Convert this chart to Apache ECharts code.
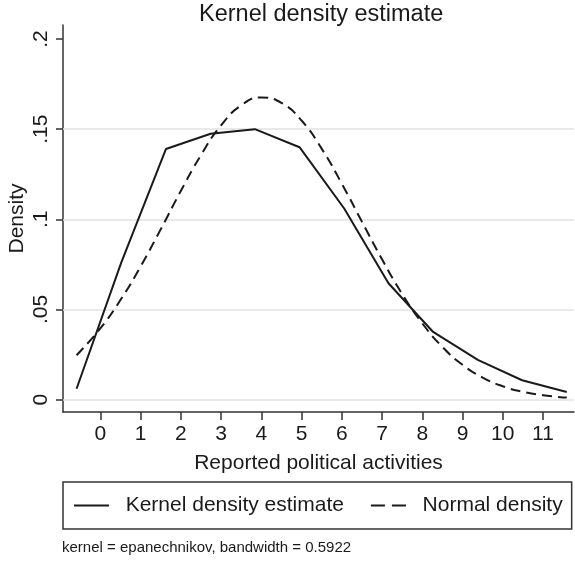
<!DOCTYPE html>
<html>
<head>
<meta charset="utf-8">
<script src="https://cdn.jsdelivr.net/npm/echarts@6/dist/echarts.min.js"></script>
<style>
  html, body { margin: 0; padding: 0; background: #fff; }
  #main { width: 575px; height: 564px; }
</style>
</head>
<body>
<div id="main"></div>
<script>
// kernel density estimate (solid), evaluated points
const kdeX = [-0.59, 0.52, 1.63, 2.74, 3.84, 4.95, 6.06, 7.16, 8.27, 9.38, 10.48, 11.59]
const kdeY = [0.006, 0.076, 0.139, 0.1475, 0.150, 0.140, 0.106, 0.0645, 0.0375, 0.022, 0.0107, 0.0042]

// normal density (dashed)
const normX = [-0.59, 0, 0.5, 1, 1.5, 2, 2.5, 3, 3.5, 4, 4.5, 5, 5.5, 6, 6.5, 7, 7.5, 8, 8.5, 9, 9.5, 10, 10.5, 11, 11.59]
const normY = [0.0246, 0.0395, 0.0552, 0.0738, 0.0944, 0.1157, 0.1356, 0.1521, 0.1632, 0.1676, 0.1646, 0.1548, 0.1392,
  0.1198, 0.0987, 0.0778, 0.0586, 0.0423, 0.0292, 0.0193, 0.0122, 0.0074, 0.0043, 0.0024, 0.0011]

const xTicks = [0, 1, 2, 3, 4, 5, 6, 7, 8, 9, 10, 11]
const yTicks = [0, 0.05, 0.1, 0.15, 0.2]
const yGrid = [0, 0.05, 0.1, 0.15]

const FONT = 'Liberation Sans'
const INK = '#1a1a1a'

const pairs = (xs, ys) => xs.map((x, i) => [x, ys[i]])

const chart = echarts.init(document.getElementById('main'))
chart.setOption({
  animation: false,
  backgroundColor: '#fff',
  textStyle: { fontFamily: FONT },
  title: {
    text: 'Kernel density estimate',
    left: 194,
    top: -2,
    textStyle: { fontFamily: FONT, fontSize: 23.5, fontWeight: 'normal', color: INK }
  },
  grid: { left: 63, right: 1, top: 25, bottom: 152, containLabel: false, outerBoundsMode: 'none' },
  legend: {
    left: 63,
    top: 482,
    orient: 'horizontal',
    padding: [13, 9, 13, 10],
    borderColor: '#333',
    borderWidth: 1.5,
    itemWidth: 35,
    itemHeight: 14,
    itemGap: 26,
    itemStyle: { opacity: 0 },
    textStyle: { fontFamily: FONT, fontSize: 21, color: INK },
    formatter: name => '  ' + name,
    data: [
      { name: 'Kernel density estimate' },
      { name: 'Normal density', lineStyle: { type: [14, 7] } }
    ]
  },
  graphic: [{
    type: 'text',
    left: 62,
    top: 540,
    style: { text: 'kernel = epanechnikov, bandwidth = 0.5922', font: '15px "Liberation Sans"', fill: INK }
  }],
  xAxis: {
    type: 'value',
    min: -0.927,
    max: 11.77,
    name: 'Reported political activities',
    nameLocation: 'middle',
    nameGap: 41,
    nameTextStyle: { fontFamily: FONT, fontSize: 21, color: INK },
    axisLine: { show: true, onZero: false, lineStyle: { color: '#333', width: 1.5 } },
    axisTick: { show: true, length: 8, customValues: xTicks, lineStyle: { color: '#333', width: 1.5 } },
    axisLabel: { customValues: xTicks, margin: 12, fontFamily: FONT, fontSize: 21, color: INK },
    splitLine: { show: false }
  },
  yAxis: {
    type: 'value',
    min: -0.0069,
    max: 0.2078,
    name: 'Density',
    nameLocation: 'middle',
    nameRotate: 90,
    nameGap: 35,
    nameMoveOverlap: false,
    nameTextStyle: { fontFamily: FONT, fontSize: 21, color: INK },
    axisLine: { show: true, onZero: false, lineStyle: { color: '#333', width: 1.5 } },
    axisTick: { show: true, length: 7, customValues: yTicks, lineStyle: { color: '#333', width: 1.5 } },
    axisLabel: {
      customValues: yTicks,
      rotate: 90,
      margin: 11,
      fontFamily: FONT,
      fontSize: 21,
      color: INK,
      formatter: v => (v === 0 ? '0' : String(v).replace(/^0/, ''))
    },
    splitLine: { show: false }
  },
  series: [
    {
      name: 'Kernel density estimate',
      type: 'line',
      data: pairs(kdeX, kdeY),
      showSymbol: false,
      symbol: 'none',
      z: 3,
      color: INK,
      lineStyle: { color: INK, width: 2 },
      markLine: {
        silent: true,
        symbol: 'none',
        z: 1,
        label: { show: false },
        lineStyle: { color: '#e2e2e2', width: 1.5, type: 'solid' },
        data: yGrid.map(v => ({ yAxis: v }))
      }
    },
    {
      name: 'Normal density',
      type: 'line',
      data: pairs(normX, normY),
      smooth: true,
      showSymbol: false,
      symbol: 'none',
      z: 3,
      color: INK,
      lineStyle: { color: INK, width: 2, type: [10, 6] }
    }
  ]
})
</script>
</body>
</html>
